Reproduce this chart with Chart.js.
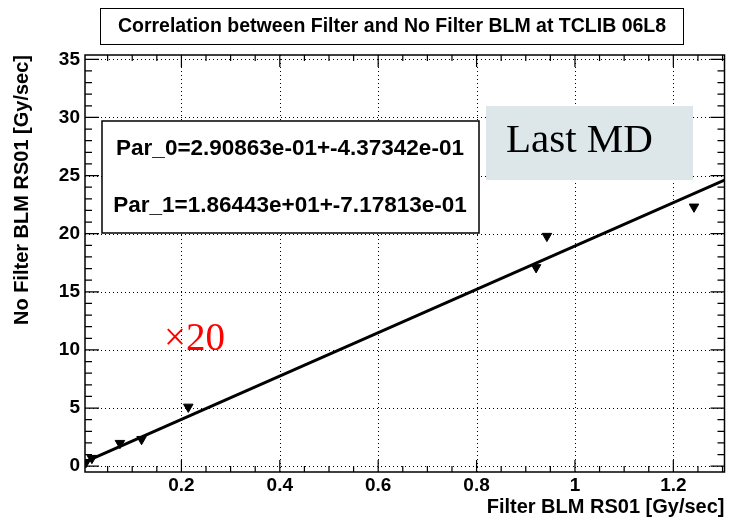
<!DOCTYPE html>
<html>
<head>
<meta charset="utf-8">
<script src="https://cdn.jsdelivr.net/npm/chart.js@4.4.0/dist/chart.umd.min.js"></script>
<style>
  html, body { margin: 0; padding: 0; background: #fff; }
  #wrap { width: 731px; height: 519px; position: relative; }
</style>
</head>
<body>
<div id="wrap"><canvas id="chart"></canvas></div>
<script>
// values
const filterBLM   = [0.006, 0.018, 0.075, 0.119, 0.214, 0.921, 0.943, 1.242];
const noFilterBLM = [0.34, 0.69, 1.98, 2.32, 5.10, 17.10, 19.79, 22.31];
const fitX = [0.004, 1.304];
const fitY = [0.37, 24.60];
const xTicks = [0.2, 0.4, 0.6, 0.8, 1, 1.2];
const yTicks = [0, 5, 10, 15, 20, 25, 30, 35];
const titleText = 'Correlation between Filter and No Filter BLM at TCLIB 06L8';
const statLines = ['Par_0=2.90863e-01+-4.37342e-01', 'Par_1=1.86443e+01+-7.17813e-01'];

const SANS = '"Liberation Sans", Arial, Helvetica, sans-serif';
const SERIF = '"Liberation Serif", "Times New Roman", serif';

const rootFrame = {
    id: 'rootFrame',
    beforeDatasetsDraw(chart) {
        const {ctx, chartArea: a, scales: {x, y}} = chart;
        ctx.save();
        ctx.strokeStyle = '#000';
        ctx.lineWidth = 1;
        ctx.setLineDash([1, 3]);
        xTicks.forEach(v => {
            const px = Math.round(x.getPixelForValue(v)) + 0.5;
            ctx.beginPath(); ctx.moveTo(px, a.top); ctx.lineTo(px, a.bottom); ctx.stroke();
        });
        yTicks.forEach(v => {
            const py = Math.round(y.getPixelForValue(v)) + 0.5;
            ctx.beginPath(); ctx.moveTo(a.left, py); ctx.lineTo(a.right, py); ctx.stroke();
        });
        ctx.restore();
    },
    afterDatasetsDraw(chart) {
        const {ctx, chartArea: a, scales: {x, y}} = chart;
        ctx.save();
        ctx.strokeStyle = '#000';
        ctx.lineWidth = 1.5;
        ctx.strokeRect(a.left, a.top, a.right - a.left, a.bottom - a.top);

        // ticks on all four sides
        ctx.lineWidth = 1.2;
        ctx.beginPath();
        for (let i = Math.ceil(x.min / 0.05); i * 0.05 <= x.max; i++) {
            const px = x.getPixelForValue(i * 0.05);
            const len = i % 4 === 0 ? 12 : 6;
            ctx.moveTo(px, a.bottom); ctx.lineTo(px, a.bottom - len);
            ctx.moveTo(px, a.top); ctx.lineTo(px, a.top + len);
        }
        for (let i = Math.ceil(y.min); i <= y.max; i++) {
            const py = y.getPixelForValue(i);
            const len = i % 5 === 0 ? 14 : 7;
            ctx.moveTo(a.left, py); ctx.lineTo(a.left + len, py);
            ctx.moveTo(a.right, py); ctx.lineTo(a.right - len, py);
        }
        ctx.stroke();

        // title box
        ctx.fillStyle = '#fff';
        ctx.fillRect(100, 8, 584, 37);
        ctx.lineWidth = 1;
        ctx.strokeRect(100.5, 8.5, 583, 36);
        ctx.fillStyle = '#000';
        ctx.font = 'bold 19.5px ' + SANS;
        ctx.textAlign = 'center';
        ctx.textBaseline = 'middle';
        ctx.fillText(titleText, 392, 27);

        // fit parameter box
        ctx.fillStyle = '#fff';
        ctx.fillRect(102, 121, 377, 112);
        ctx.lineWidth = 1.5;
        ctx.strokeRect(102, 121, 377, 112);
        ctx.fillStyle = '#000';
        ctx.font = 'bold 22.5px ' + SANS;
        ctx.fillText(statLines[0], 290, 149);
        ctx.fillText(statLines[1], 290, 206);

        // annotation "Last MD"
        ctx.fillStyle = '#dde7ea';
        ctx.fillRect(486, 106, 207, 74);
        ctx.fillStyle = '#000';
        ctx.font = '41px ' + SERIF;
        ctx.textAlign = 'left';
        ctx.textBaseline = 'alphabetic';
        ctx.fillText('Last MD', 506, 152);

        // red scale note
        ctx.fillStyle = '#ff0000';
        ctx.font = '39px ' + SERIF;
        ctx.fillText('×20', 164, 350);
        ctx.restore();
    }
};

new Chart(document.getElementById('chart'), {
    type: 'scatter',
    data: {
        datasets: [
            {
                label: 'fit',
                type: 'line',
                data: fitX.map((v, i) => ({x: v, y: fitY[i]})),
                borderColor: '#000',
                borderWidth: 3,
                pointRadius: 0,
                fill: false,
                tension: 0
            },
            {
                label: 'BLM',
                data: filterBLM.map((v, i) => ({x: v, y: noFilterBLM[i]})),
                pointStyle: 'triangle',
                rotation: 180,
                radius: 5.5,
                backgroundColor: '#000',
                borderColor: '#000',
                borderWidth: 1
            }
        ]
    },
    options: {
        responsive: true,
        maintainAspectRatio: false,
        animation: false,
        events: [],
        layout: { padding: { top: 55, right: 4, left: 0, bottom: 0 } },
        plugins: {
            legend: { display: false },
            tooltip: { enabled: false }
        },
        scales: {
            x: {
                type: 'linear',
                min: 0.004,
                max: 1.304,
                afterFit: s => { s.height = 47; },
                afterBuildTicks: s => { s.ticks = xTicks.map(v => ({value: v})); },
                grid: { display: false, drawTicks: false },
                border: { display: false },
                ticks: {
                    color: '#000',
                    padding: 2,
                    maxRotation: 0,
                    autoSkip: false,
                    font: { family: SANS, size: 19, weight: 'bold' },
                    callback: v => String(v)
                },
                title: {
                    display: true,
                    text: 'Filter BLM RS01 [Gy/sec]',
                    align: 'end',
                    color: '#000',
                    padding: { top: 0, bottom: 0 },
                    font: { family: SANS, size: 20, weight: 'bold' }
                }
            },
            y: {
                type: 'linear',
                min: -0.5,
                max: 35.37,
                afterFit: s => { s.width = 85; },
                afterBuildTicks: s => { s.ticks = yTicks.map(v => ({value: v})); },
                grid: { display: false, drawTicks: false },
                border: { display: false },
                ticks: {
                    color: '#000',
                    padding: 5,
                    autoSkip: false,
                    font: { family: SANS, size: 19, weight: 'bold' },
                    callback: v => String(v)
                },
                title: {
                    display: true,
                    text: 'No Filter BLM RS01 [Gy/sec]',
                    align: 'end',
                    color: '#000',
                    padding: { top: 10, bottom: 0 },
                    font: { family: SANS, size: 20, weight: 'bold' }
                }
            }
        }
    },
    plugins: [rootFrame]
});
</script>
</body>
</html>
